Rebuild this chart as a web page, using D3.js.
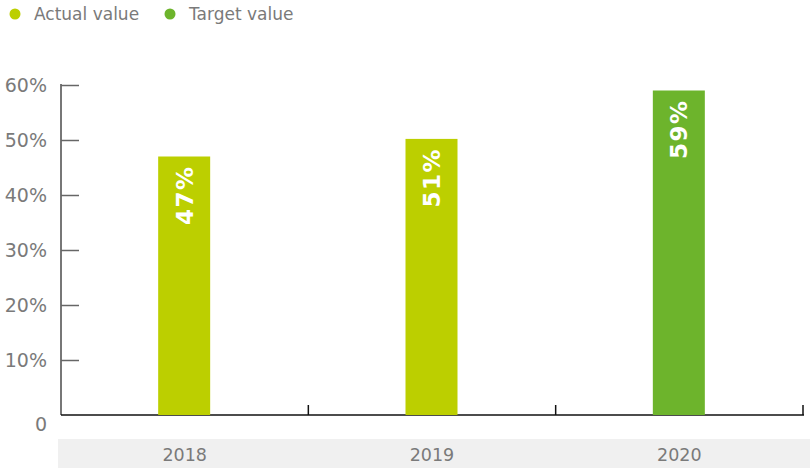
<!doctype html>
<html>
<head>
<script src="https://d3js.org/d3.v7.min.js"></script>
<style>
body { margin: 0; background: #fff; }
text { font-family: "DejaVu Sans", "Open Sans", sans-serif; }
.tick text { fill: #7a7a7a; }
</style>
</head>
<body>
<script>
// chart data
var years = ["2018", "2019", "2020"];
var values = [47, 50.2, 59];            // bar heights as drawn
var valueLabels = ["47%", "51%", "59%"];
var kinds = ["actual", "actual", "target"];
var seriesNames = ["Actual value", "Target value"];
var yTicks = [0, 10, 20, 30, 40, 50, 60];

var colors = { actual: "#bccf00", target: "#6db42c" };

var width = 810, height = 468;
var svg = d3.select("body").append("svg").attr("width", width).attr("height", height);

var x = d3.scaleBand().domain(years).range([61, 803]);
var y = d3.scaleLinear().domain([0, 60]).range([415, 85]);

// legend
var legend = svg.append("g").selectAll("g").data(seriesNames).enter().append("g")
  .attr("transform", function(d, i) { return "translate(" + (i == 0 ? 15 : 170) + ",14)"; });
legend.append("circle").attr("r", 5.5).attr("fill", function(d, i) { return i == 0 ? colors.actual : colors.target; });
legend.append("text").attr("x", 19).attr("y", 6).attr("font-size", 17).attr("fill", "#7a7a7a").text(function(d) { return d; });

// category label band
svg.append("rect").attr("x", 58).attr("y", 439).attr("width", 752).attr("height", 29).attr("fill", "#f0f0f0");
svg.append("g").selectAll("text").data(years).enter().append("text")
  .attr("x", function(d) { return x(d) + x.bandwidth() / 2; })
  .attr("y", 461).attr("text-anchor", "middle").attr("font-size", 17.5).attr("fill", "#7a7a7a")
  .text(function(d) { return d; });

// y axis
var yAxis = d3.axisRight(y).tickValues(yTicks).tickSize(18)
  .tickFormat(function(d) { return d == 0 ? "0" : d + "%"; });
var gy = svg.append("g").attr("transform", "translate(61,0)").call(yAxis);
gy.select(".domain").attr("stroke", "#777").attr("stroke-width", 2).attr("d", "M0,84V415");
gy.selectAll(".tick line").attr("stroke", "#666").attr("stroke-width", 1.5);
gy.selectAll(".tick text").attr("x", -14).attr("text-anchor", "end").attr("font-size", 19).attr("dy", "0.35em");
gy.selectAll(".tick").filter(function(d) { return d == 0; }).select("text").attr("dy", "0.8em").attr("x", -14);
gy.selectAll(".tick").filter(function(d) { return d == 0; }).select("line").remove();

// x axis
var gx = svg.append("g").attr("transform", "translate(0,415)");
gx.append("line").attr("x1", 61).attr("x2", 804).attr("stroke", "#111").attr("stroke-width", 1.5);
gx.selectAll(".xt").data(years).enter().append("line").attr("class", "xt")
  .attr("x1", function(d) { return x(d) + x.bandwidth(); })
  .attr("x2", function(d) { return x(d) + x.bandwidth(); })
  .attr("y1", 0).attr("y2", -10).attr("stroke", "#111").attr("stroke-width", 1.5);

// bars
var barW = 52;
var bars = svg.append("g").selectAll("g").data(years).enter().append("g");
bars.append("rect")
  .attr("x", function(d) { return x(d) + x.bandwidth() / 2 - barW / 2 - 0.5; })
  .attr("y", function(d, i) { return y(values[i]); })
  .attr("width", barW)
  .attr("height", function(d, i) { return y(0) - y(values[i]); })
  .attr("fill", function(d, i) { return colors[kinds[i]]; });
bars.append("text")
  .attr("transform", function(d, i) {
    return "translate(" + (x(d) + x.bandwidth() / 2 + 8) + "," + (y(values[i]) + 9) + ") rotate(-90)";
  })
  .attr("text-anchor", "end").attr("font-size", 23).attr("font-weight", "bold").attr("fill", "#fff")
  .attr("letter-spacing", 1.5)
  .text(function(d, i) { return valueLabels[i]; });
</script>
</body>
</html>
